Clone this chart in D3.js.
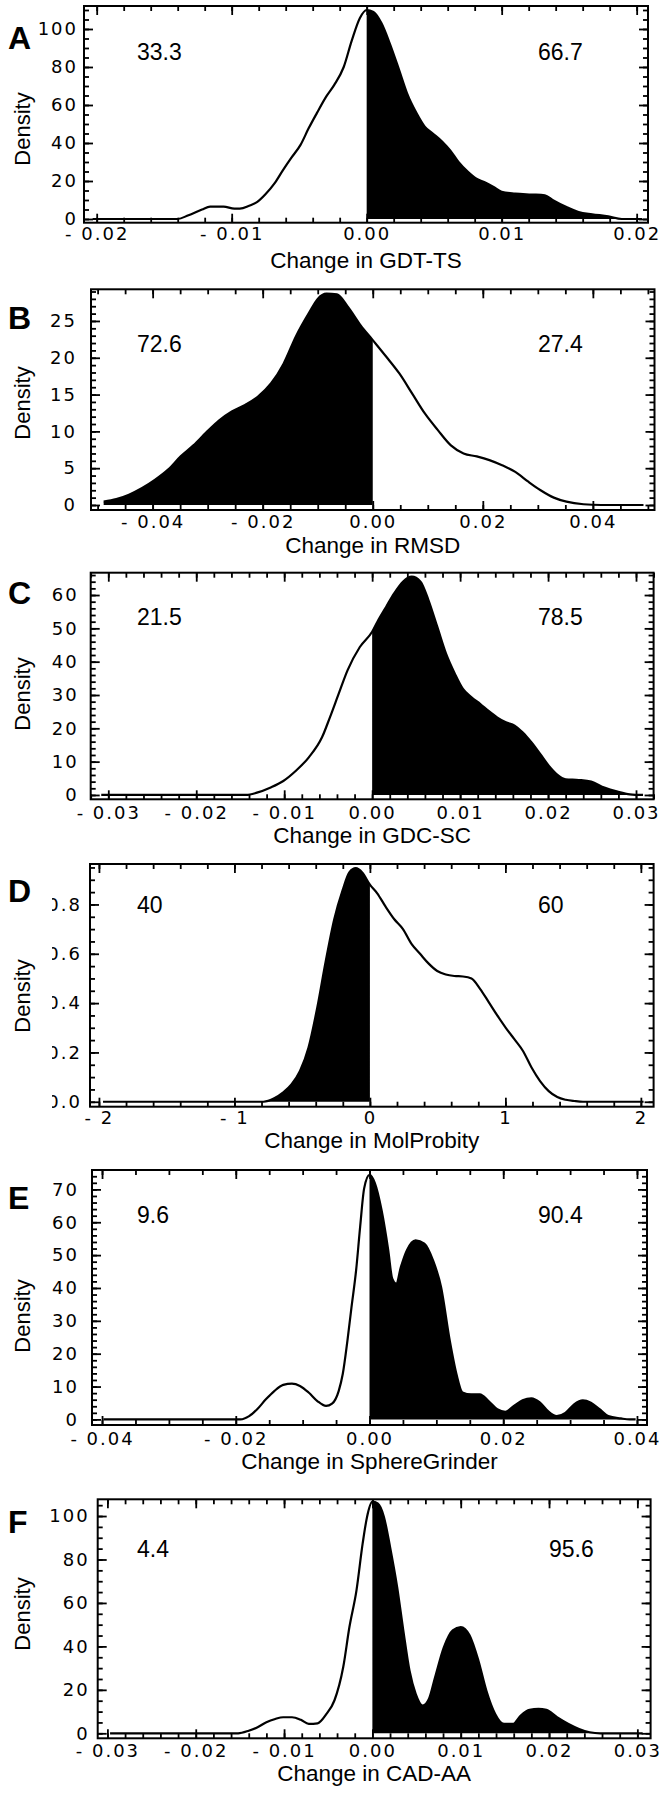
<!DOCTYPE html>
<html>
<head>
<meta charset="utf-8">
<script src="https://cdn.jsdelivr.net/npm/d3@7"></script>
<style>
  body { margin: 0; background: #fff; }
  svg text { font-family: "Liberation Sans", Arial, Helvetica, sans-serif; fill: #000; }
  .ticklab text { font-family: "DejaVu Sans", sans-serif; font-size: 18px; letter-spacing: 2px; }
</style>
</head>
<body>
<div id="chart"></div>
<script>

// ---- data: x = change in score, d = density ----

// A  GDT-TS
const gdtX = [-0.0203, -0.0140, -0.0132, -0.0122, -0.0116, -0.0106, -0.0098, -0.0094, -0.0087, -0.0081, -0.0075, -0.0068, -0.0062, -0.0056, -0.0049, -0.0043, -0.0037, -0.0030, -0.0024, -0.0017, -0.0011, -0.0005, 0, 0.0005, 0.0011, 0.0017, 0.0024, 0.0030, 0.0037, 0.0043, 0.0049, 0.0056, 0.0062, 0.0068, 0.0075, 0.0081, 0.0087, 0.0094, 0.0100, 0.0110, 0.0122, 0.0132, 0.0138, 0.0148, 0.0157, 0.0167, 0.0179, 0.0189, 0.0204];
const gdtD = [0, 0, 2, 5, 6.5, 6.5, 5.5, 5.5, 7, 9, 13, 19, 25.7, 32, 39, 47.7, 55.6, 64.4, 70.6, 80, 94, 105.8, 110, 109, 103, 92.6, 78.5, 66, 55.6, 48.6, 45, 40.7, 36, 30, 24.8, 21.3, 19.5, 16.9, 14.3, 13.4, 12.9, 12.5, 9.9, 6.3, 3.7, 2.5, 1.4, 0, 0];
const gdtPct = [33.3, 66.7];

// B  RMSD
const rmsdX = [-0.0489, -0.0466, -0.0443, -0.0419, -0.0396, -0.0372, -0.0349, -0.0326, -0.0302, -0.0279, -0.0256, -0.0232, -0.0209, -0.0185, -0.0162, -0.0139, -0.0115, -0.0100, -0.0084, -0.0065, -0.0045, -0.0022, 0, 0.0025, 0.0048, 0.0072, 0.0095, 0.0118, 0.0142, 0.0165, 0.0189, 0.0212, 0.0235, 0.0259, 0.0282, 0.0305, 0.0329, 0.0352, 0.0383, 0.0415, 0.0492];
const rmsdD = [0.45, 0.8, 1.4, 2.3, 3.4, 4.8, 6.6, 8.1, 9.9, 11.5, 12.7, 13.6, 14.7, 16.5, 19.2, 23, 26.2, 28, 28.7, 28.6, 26.9, 24.4, 22.4, 20.1, 17.9, 15.1, 12.4, 10.2, 8.1, 7, 6.6, 6.1, 5.4, 4.5, 3.2, 2, 1, 0.45, 0.1, 0, 0];
const rmsdPct = [72.6, 27.4];

// C  GDC-SC
const gdcX = [-0.0308, -0.0143, -0.0131, -0.0116, -0.0101, -0.0087, -0.0072, -0.0057, -0.0048, -0.0038, -0.0028, -0.0014, 0, 0.0006, 0.0016, 0.0025, 0.0035, 0.0045, 0.0055, 0.0064, 0.0074, 0.0084, 0.0094, 0.0103, 0.0113, 0.0123, 0.0132, 0.0142, 0.0152, 0.0162, 0.0171, 0.0181, 0.0191, 0.0201, 0.0210, 0.0220, 0.0235, 0.0249, 0.0264, 0.0279, 0.0293, 0.0308];
const gdcD = [0, 0, 0.7, 2.2, 4.2, 7.2, 11.3, 17.3, 23.3, 30.4, 37.4, 44.4, 49, 52, 56.5, 60.5, 64, 65.5, 64, 58.5, 50.5, 42.4, 36.4, 31.9, 29.3, 27.3, 25.3, 23.3, 21.8, 20.8, 18.8, 15.8, 12.3, 8.7, 6.2, 4.7, 4.5, 4, 2.2, 1, 0.2, 0];
const gdcPct = [21.5, 78.5];

// D  MolProbity
const molX = [-1.97, -0.785, -0.706, -0.642, -0.579, -0.516, -0.453, -0.389, -0.326, -0.263, -0.200, -0.152, -0.104, -0.057, 0, 0.054, 0.117, 0.180, 0.244, 0.307, 0.370, 0.434, 0.497, 0.560, 0.623, 0.687, 0.750, 0.813, 0.877, 0.940, 1.003, 1.066, 1.130, 1.193, 1.256, 1.320, 1.383, 1.446, 1.509, 1.573, 2.02];
const molD = [0, 0, 0.014, 0.037, 0.07, 0.125, 0.22, 0.38, 0.57, 0.74, 0.86, 0.93, 0.947, 0.93, 0.88, 0.845, 0.79, 0.74, 0.70, 0.64, 0.60, 0.56, 0.53, 0.516, 0.51, 0.508, 0.50, 0.458, 0.404, 0.35, 0.30, 0.254, 0.206, 0.139, 0.084, 0.043, 0.019, 0.008, 0.003, 0, 0];
const molPct = [40, 60];

// E  SphereGrinder
const sgX = [-0.0398, -0.0193, -0.0180, -0.0168, -0.0155, -0.0142, -0.0129, -0.0116, -0.0104, -0.0091, -0.0078, -0.0065, -0.0056, -0.0046, -0.0040, -0.0033, -0.0027, -0.0020, -0.0014, -0.0008, 0, 0.0008, 0.0018, 0.0028, 0.0034, 0.0040, 0.0047, 0.0056, 0.0069, 0.0082, 0.0095, 0.0107, 0.0120, 0.0130, 0.0139, 0.0152, 0.0165, 0.0178, 0.0191, 0.0203, 0.0216, 0.0229, 0.0242, 0.0255, 0.0267, 0.0280, 0.0293, 0.0306, 0.0319, 0.0331, 0.0344, 0.0357, 0.0376, 0.0389, 0.0398];
const sgD = [0, 0, 1, 3.1, 6.1, 8.7, 10.5, 10.9, 10.2, 8.2, 5.6, 4.1, 4.8, 8.7, 13.8, 24, 34, 45.4, 58.6, 70.3, 74.4, 71.9, 63.7, 51.5, 42.8, 41.3, 46.4, 51.5, 54.5, 53.5, 48.4, 40.3, 24, 13.8, 8.2, 7.6, 7.6, 5.6, 3.1, 2.3, 4.1, 5.8, 6.4, 5.1, 2.5, 1, 2, 4.6, 5.8, 5.1, 3.1, 1, 0.3, 0, 0];
const sgPct = [9.6, 90.4];

// F  CAD-AA
const cadX = [-0.0297, -0.0152, -0.0140, -0.0130, -0.0120, -0.0110, -0.0101, -0.0091, -0.0081, -0.0072, -0.0062, -0.0052, -0.0043, -0.0033, -0.0026, -0.0018, -0.0011, -0.0006, 0, 0.0006, 0.0013, 0.0020, 0.0028, 0.0035, 0.0042, 0.0049, 0.0057, 0.0064, 0.0071, 0.0081, 0.0091, 0.0100, 0.0110, 0.0120, 0.0129, 0.0139, 0.0149, 0.0159, 0.0168, 0.0178, 0.0188, 0.0197, 0.0209, 0.0222, 0.0234, 0.0246, 0.0258, 0.0306];
const cadD = [0, 0, 1.2, 2.8, 5.1, 6.6, 7.4, 7.4, 6.2, 4.3, 4.6, 8.9, 15.1, 30.5, 48.9, 65.8, 87.4, 99.7, 106.6, 105.8, 99.7, 85.8, 67.4, 47.4, 28.9, 18.2, 12.8, 15.8, 25.8, 39.7, 47.4, 48.9, 45.1, 33.5, 19.7, 8.9, 4.3, 4.3, 8.2, 10.8, 11.2, 10.8, 7.4, 4.3, 2, 0.5, 0, 0];
const cadPct = [4.4, 95.6];

// tick labels and titles
const letters = ["A", "B", "C", "D", "E", "F"];
const titles = ["Change in GDT-TS", "Change in RMSD", "Change in GDC-SC", "Change in MolProbity", "Change in SphereGrinder", "Change in CAD-AA"];
const xTicksA = [-0.02, -0.01, 0, 0.01, 0.02], yTicksA = [0, 20, 40, 60, 80, 100];
const xTicksB = [-0.04, -0.02, 0, 0.02, 0.04], yTicksB = [0, 5, 10, 15, 20, 25];
const xTicksC = [-0.03, -0.02, -0.01, 0, 0.01, 0.02, 0.03], yTicksC = [0, 10, 20, 30, 40, 50, 60];
const xTicksD = [-2, -1, 0, 1, 2], yTicksD = [0, 0.2, 0.4, 0.6, 0.8];
const xTicksE = [-0.04, -0.02, 0, 0.02, 0.04], yTicksE = [0, 10, 20, 30, 40, 50, 60, 70];
const xTicksF = [-0.03, -0.02, -0.01, 0, 0.01, 0.02, 0.03], yTicksF = [0, 20, 40, 60, 80, 100];

// which side of zero is shaded
const shaded = ["right", "left", "right", "left", "right", "right"];

// table of panels built from the arrays above
const panels = [
  { xs: gdtX, ds: gdtD, pct: gdtPct, xt: xTicksA, yt: yTicksA, xFmt: ".2f", yFmt: "d", xMinor: 0.002, yMinor: 5 },
  { xs: rmsdX, ds: rmsdD, pct: rmsdPct, xt: xTicksB, yt: yTicksB, xFmt: ".2f", yFmt: "d", xMinor: 0.005, yMinor: 1 },
  { xs: gdcX, ds: gdcD, pct: gdcPct, xt: xTicksC, yt: yTicksC, xFmt: ".2f", yFmt: "d", xMinor: 0.002, yMinor: 2 },
  { xs: molX, ds: molD, pct: molPct, xt: xTicksD, yt: yTicksD, xFmt: "d", yFmt: ".1f", xMinor: 0.2, yMinor: 0.05 },
  { xs: sgX, ds: sgD, pct: sgPct, xt: xTicksE, yt: yTicksE, xFmt: ".2f", yFmt: "d", xMinor: 0.005, yMinor: 2 },
  { xs: cadX, ds: cadD, pct: cadPct, xt: xTicksF, yt: yTicksF, xFmt: ".2f", yFmt: "d", xMinor: 0.002, yMinor: 5 }
];

// ---- layout (pixels) ----
// frame: [left, top, right, bottom]
const layout = [
  { frame: [84, 6, 648, 222.7],         xDom: [-0.02094, 0.02084], yDom: [-1.95, 112.1], letterY: 49,   pctY: 60,   pctX: [137, 538], xPad: 5, yPad: 6,  titleDy: 45, densY: 129 },
  { frame: [91, 289.3, 654.5, 510],     xDom: [-0.0512, 0.0512],   yDom: [-0.68, 29.3],  letterY: 329,  pctY: 352,  pctX: [137, 538], xPad: 5, yPad: 14, titleDy: 43, densY: 403 },
  { frame: [90.7, 572.7, 653.6, 799.3], xDom: [-0.032, 0.032],     yDom: [-1.3, 66.7],   letterY: 604,  pctY: 625,  pctX: [137, 538], xPad: 7, yPad: 12, titleDy: 44, densY: 694 },
  { frame: [90, 864, 653.6, 1106.7],    xDom: [-2.066, 2.094],     yDom: [-0.02, 0.964], letterY: 902,  pctY: 913,  pctX: [137, 538], xPad: 5, yPad: 8,  titleDy: 41, densY: 996, clipLeft: 52 },
  { frame: [92, 1170, 647, 1425],       xDom: [-0.0415, 0.0415],   yDom: [-1.7, 75.9],   letterY: 1209, pctY: 1223, pctX: [137, 538], xPad: 7, yPad: 13, titleDy: 44, densY: 1316 },
  { frame: [97.7, 1499.3, 650.6, 1738.3], xDom: [-0.0311, 0.0315], yDom: [-2.3, 107.7], letterY: 1533, pctY: 1557, pctX: [137, 549], xPad: 6, yPad: 8,  titleDy: 43, densY: 1614 }
];

const W = 672, H = 1796;
const MAJOR = 9, MINOR = 5;

const svg = d3.select("#chart").append("svg")
  .attr("width", W)
  .attr("height", H);

svg.append("rect").attr("width", W).attr("height", H).attr("fill", "#fff");

// minor tick positions inside a domain
function minorTicks(dom, step) {
  const lo = Math.ceil(dom[0] / step - 1e-9), hi = Math.floor(dom[1] / step + 1e-9);
  return d3.range(lo, hi + 1).map(k => +(k * step).toFixed(6));
}

// IDL style number: "- 0.02"
function idlFormat(spec) {
  const f = d3.format(spec);
  return v => (v < 0 ? "- " : "") + f(Math.abs(v));
}

// ticks pointing into the frame; labels only where asked
function addAxis(g, axisFn, scale, majors, minors, fmt, pad) {
  g.append("g")
    .call(axisFn(scale).tickValues(minors).tickSize(-MINOR).tickFormat(""));
  g.append("g")
    .attr("class", fmt ? "ticklab" : null)
    .call(axisFn(scale).tickValues(majors).tickSize(-MAJOR).tickPadding(pad || 0).tickFormat(fmt || ""));
  g.selectAll(".domain").remove();
  g.selectAll("line").attr("stroke", "#000").attr("stroke-width", 1.8);
}

panels.forEach((p, i) => {
  const L = layout[i];
  const [fx0, fy0, fx1, fy1] = L.frame;

  const x = d3.scaleLinear().domain(L.xDom).range([fx0, fx1]);
  const y = d3.scaleLinear().domain(L.yDom).range([fy1, fy0]);

  const pts = p.xs.map((v, k) => ({ x: v, d: p.ds[k] }));
  const side = pts.filter(q => shaded[i] === "right" ? q.x >= 0 : q.x <= 0);

  const g = svg.append("g").attr("class", "panel-" + letters[i]);

  // shaded part of the density
  g.append("path")
    .datum(side)
    .attr("d", d3.area()
      .x(q => x(q.x))
      .y0(y(0))
      .y1(q => y(q.d))
      .curve(d3.curveMonotoneX))
    .attr("fill", "#000");

  // density outline
  g.append("path")
    .datum(pts)
    .attr("d", d3.line()
      .x(q => x(q.x))
      .y(q => y(q.d))
      .curve(d3.curveMonotoneX))
    .attr("fill", "none")
    .attr("stroke", "#000")
    .attr("stroke-width", 2.2)
    .attr("stroke-linejoin", "round");

  // axes on all four sides
  const xMin = minorTicks(L.xDom, p.xMinor), yMin = minorTicks(L.yDom, p.yMinor);

  addAxis(g.append("g").attr("transform", `translate(0,${fy1})`),
    d3.axisBottom, x, p.xt, xMin, idlFormat(p.xFmt), L.xPad);
  addAxis(g.append("g").attr("transform", `translate(0,${fy0})`),
    d3.axisTop, x, p.xt, xMin, null);

  const left = g.append("g").attr("transform", `translate(${fx0},0)`);
  addAxis(left, d3.axisLeft, y, p.yt, yMin, d3.format(p.yFmt), L.yPad);
  addAxis(g.append("g").attr("transform", `translate(${fx1},0)`),
    d3.axisRight, y, p.yt, yMin, null);

  // panel D's labels are cut at the left edge in the original
  if (L.clipLeft) {
    svg.append("clipPath").attr("id", "clipD")
      .append("rect").attr("x", L.clipLeft - fx0).attr("y", 0).attr("width", W).attr("height", H);
    left.select(".ticklab").attr("clip-path", "url(#clipD)");
  }

  // frame
  g.append("rect")
    .attr("x", fx0).attr("y", fy0)
    .attr("width", fx1 - fx0).attr("height", fy1 - fy0)
    .attr("fill", "none")
    .attr("stroke", "#000")
    .attr("stroke-width", 2);

  // percentages either side of zero
  g.selectAll(".pct")
    .data(p.pct)
    .enter()
    .append("text")
    .attr("class", "pct")
    .attr("x", (d, k) => L.pctX[k])
    .attr("y", L.pctY)
    .attr("font-size", 23)
    .text(d => String(d));

  // axis titles
  g.append("text")
    .attr("x", (fx0 + fx1) / 2)
    .attr("y", fy1 + L.titleDy)
    .attr("text-anchor", "middle")
    .attr("font-size", 22.5)
    .text(titles[i]);

  g.append("text")
    .attr("transform", `translate(30,${L.densY}) rotate(-90)`)
    .attr("text-anchor", "middle")
    .attr("font-size", 22)
    .text("Density");

  // panel letter
  g.append("text")
    .attr("x", 8)
    .attr("y", L.letterY)
    .attr("font-size", 32)
    .attr("font-weight", "bold")
    .text(letters[i]);
});

</script>
</body>
</html>
